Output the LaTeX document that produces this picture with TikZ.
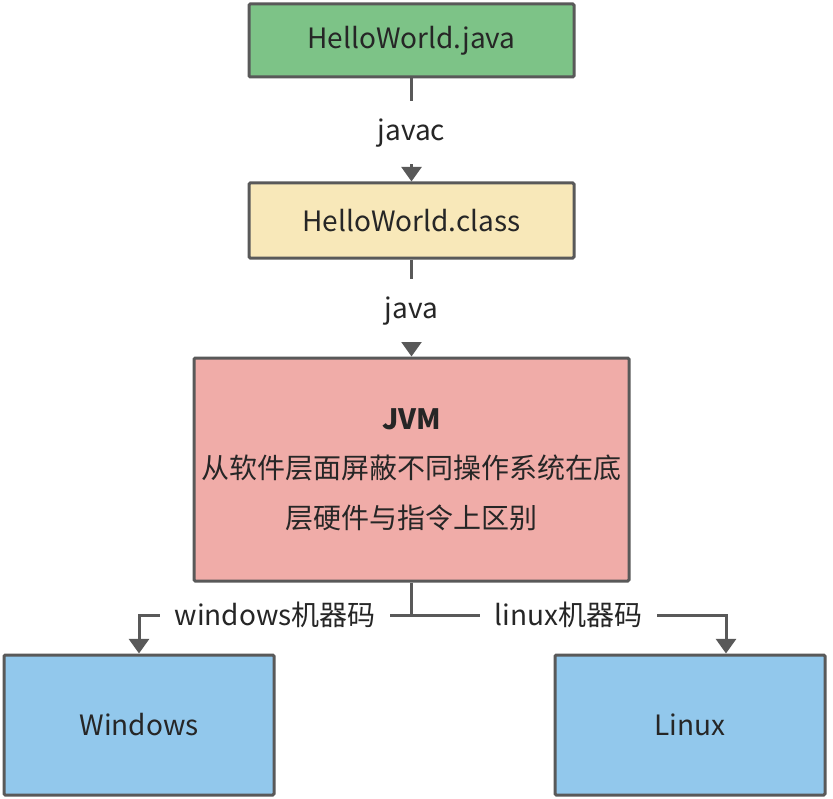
\documentclass[tikz,border=0pt]{standalone}
\usepackage{fontspec}
\setmainfont{Noto Sans CJK SC}
\usetikzlibrary{arrows.meta}
\definecolor{edgegray}{HTML}{595959}
\definecolor{textdark}{HTML}{262626}
\definecolor{srcgreen}{HTML}{7DC387}
\definecolor{clsyellow}{HTML}{F8E8B9}
\definecolor{jvmpink}{HTML}{F0ACA8}
\definecolor{osblue}{HTML}{92C8EC}
\tikzset{box/.style = {draw = edgegray, line width = 2.25pt, rounded corners = 1pt, text = textdark, font = \fontsize{21}{37}\selectfont, align = center}}
\tikzset{arr/.style = {draw = edgegray, line width = 2.25pt, -{Triangle[width = 15pt, length = 11pt]}}}
\tikzset{lbl/.style = {fill = white, text = textdark, font = \fontsize{21}{25}\selectfont, inner xsep = 11pt, inner ysep = 13pt}}

\begin{document}
\begin{tikzpicture}[x = 0.75pt, y = -0.75pt]
      \useasboundingbox (0, 0) rectangle (833, 799);
      \node [box, fill = srcgreen, minimum width = 243.75pt, minimum height = 54.75pt] (java) at (411.5, 40.5) {HelloWorld.java};
      \node [box, fill = clsyellow, minimum width = 243.75pt, minimum height = 56.25pt] (class) at (411.5, 220.5) {HelloWorld.class};
      \node [box, fill = jvmpink, minimum width = 326.25pt, minimum height = 167.25pt] (jvm) at (411.5, 469.5) {\textbf{JVM}\\从软件层面屏蔽不同操作系统在底\\层硬件与指令上区别};
      \node [box, fill = osblue, minimum width = 202.5pt, minimum height = 105pt] (win) at (139, 725) {Windows};
      \node [box, fill = osblue, minimum width = 202.5pt, minimum height = 105pt] (lin) at (690, 725) {Linux};
      \coordinate (split) at (411.5, 615);
      \coordinate (linin) at ([xshift = 27pt] lin.north);
      \draw [arr] (java) -- node [lbl, yshift = -2pt] {javac} (class);
      \draw [arr] (class) -- node [lbl, yshift = -2pt] {java} (jvm);
      \draw [draw = edgegray, line width = 2.25pt] (jvm.south) -- (split);
      \draw [arr] (split) -| node [lbl, pos = 0.25] {windows机器码} (win.north);
      \draw [arr] (split) -| node [lbl, pos = 0.25] {linux机器码} (linin);
    \end{tikzpicture}
\end{document}
